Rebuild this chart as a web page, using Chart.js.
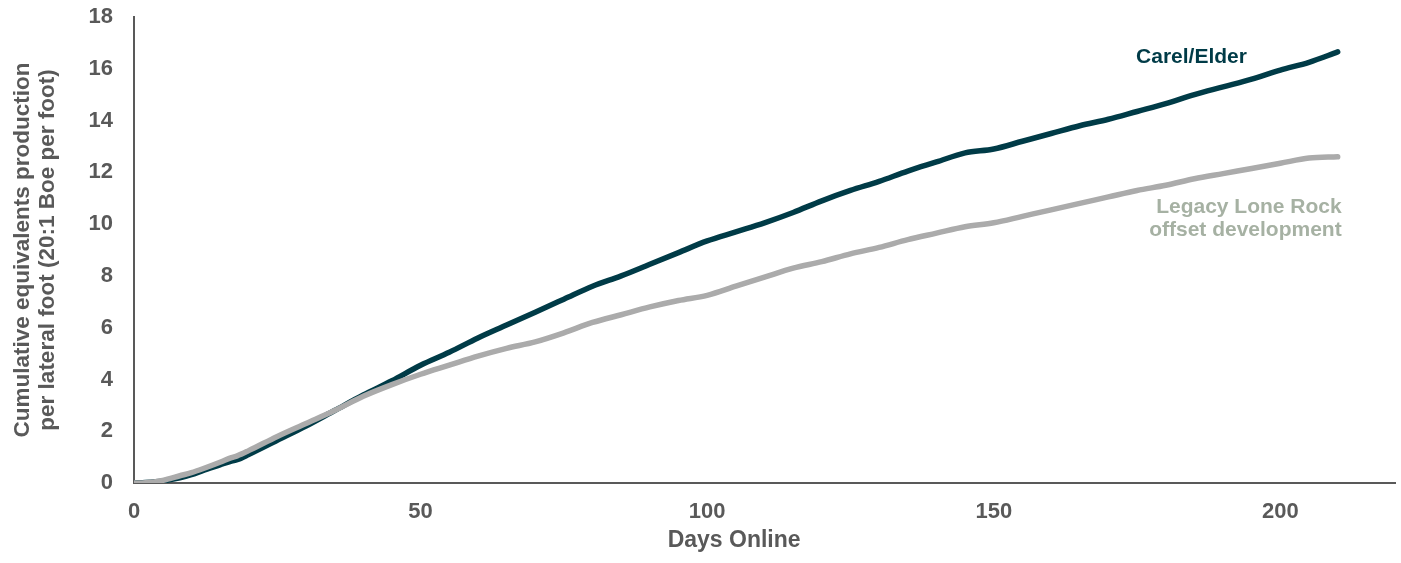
<!DOCTYPE html>
<html>
<head>
<meta charset="utf-8">
<script src="https://cdn.jsdelivr.net/npm/chart.js@4.4.1/dist/chart.umd.min.js"></script>
<style>
  html, body { margin: 0; padding: 0; background: #ffffff; }
  #wrap { width: 1401px; height: 563px; position: relative; }
</style>
</head>
<body>
<div id="wrap"><canvas id="chart" width="1401" height="563"></canvas></div>
<script>
// Days since the wells came online
const days = [0, 2, 5, 8, 10, 12, 15, 17, 18, 20, 25, 30, 35, 40, 45, 50, 55, 60, 65, 70, 75, 80, 85, 90, 95, 100,
  105, 110, 115, 120, 125, 130, 135, 140, 145, 150, 155, 160, 165, 170, 175, 180, 185, 190, 195, 200, 205, 210];

// Cumulative Boe per lateral foot
const carelElder = [0, 0.02, 0.08, 0.2, 0.32, 0.48, 0.7, 0.85, 0.9, 1.1, 1.65, 2.2, 2.8, 3.4, 3.95, 4.55, 5.05, 5.6, 6.1, 6.6, 7.1, 7.6, 8.0, 8.45, 8.9, 9.35,
  9.7, 10.05, 10.45, 10.9, 11.3, 11.65, 12.05, 12.4, 12.75, 12.9, 13.2, 13.5, 13.8, 14.05, 14.35, 14.65, 15.0, 15.3, 15.6, 15.95, 16.25, 16.65];

const legacyLoneRock = [0, 0.01, 0.1, 0.28, 0.4, 0.55, 0.8, 0.98, 1.05, 1.25, 1.8, 2.3, 2.8, 3.35, 3.8, 4.2, 4.55, 4.9, 5.2, 5.45, 5.8, 6.2, 6.5, 6.8, 7.05, 7.25,
  7.6, 7.95, 8.3, 8.55, 8.85, 9.1, 9.4, 9.65, 9.9, 10.05, 10.3, 10.55, 10.8, 11.05, 11.3, 11.5, 11.75, 11.95, 12.15, 12.35, 12.55, 12.6];

const xTicks = [0, 50, 100, 150, 200];
const yTitle = ['Cumulative equivalents production', 'per lateral foot (20:1 Boe per foot)'];
const xTitle = 'Days Online';
const seriesNames = ['Carel/Elder', 'Legacy Lone Rock offset development'];

const DARK = '#003b47';
const GREY = '#ababab';
const LABEL_GREY = '#a6b1a3';
const AXIS = '#595959';
const FONT = '"Liberation Sans", Arial, sans-serif';

const toPoints = (vals) => days.map((d, i) => ({ x: d, y: vals[i] }));

// Series names drawn next to the lines, plus the x-axis title
const annotations = {
  id: 'annotations',
  afterDraw(chart) {
    const { ctx, scales: { x, y } } = chart;
    ctx.save();
    ctx.textBaseline = 'middle';
    ctx.font = 'bold 21px ' + FONT;

    ctx.fillStyle = DARK;
    ctx.textAlign = 'center';
    ctx.fillText('Carel/Elder', x.getPixelForValue(184.5), y.getPixelForValue(16.45));

    ctx.fillStyle = LABEL_GREY;
    ctx.textAlign = 'right';
    ctx.fillText('Legacy Lone Rock', x.getPixelForValue(210.7), y.getPixelForValue(10.66));
    ctx.fillText('offset development', x.getPixelForValue(210.7), y.getPixelForValue(9.77));

    ctx.fillStyle = AXIS;
    ctx.textAlign = 'center';
    ctx.font = 'bold 23px ' + FONT;
    ctx.fillText(xTitle, x.getPixelForValue(104.7), 541);
    ctx.restore();
  }
};

const lineStyle = {
  borderWidth: 5.5,
  pointRadius: 0,
  cubicInterpolationMode: 'monotone',
  borderCapStyle: 'round',
  borderJoinStyle: 'round',
  fill: false
};

new Chart(document.getElementById('chart'), {
  type: 'line',
  data: {
    datasets: [
      Object.assign({ label: seriesNames[1], data: toPoints(legacyLoneRock), borderColor: GREY }, lineStyle),
      Object.assign({ label: seriesNames[0], data: toPoints(carelElder), borderColor: DARK }, lineStyle)
    ]
  },
  options: {
    responsive: false,
    animation: false,
    layout: { padding: { top: 17, right: 6, left: 0, bottom: 0 } },
    plugins: { legend: { display: false }, tooltip: { enabled: false } },
    scales: {
      x: {
        type: 'linear',
        min: 0,
        max: 220,
        grid: { display: false, drawTicks: false },
        border: { color: AXIS, width: 2 },
        afterBuildTicks(scale) {
          scale.ticks = xTicks.map(v => ({ value: v }));
        },
        afterFit(scale) { scale.height = 80; },
        ticks: {
          padding: 16,
          maxRotation: 0,
          color: AXIS,
          font: { family: FONT, size: 22, weight: 'bold' }
        }
      },
      y: {
        min: 0,
        max: 18,
        grid: { display: false, drawTicks: false },
        border: { color: AXIS, width: 2 },
        afterFit(scale) {
          scale.width = 134;
          scale.paddingTop = 0;
          scale.paddingBottom = 0;
        },
        ticks: {
          stepSize: 2,
          padding: 21,
          color: AXIS,
          font: { family: FONT, size: 22, weight: 'bold' }
        },
        title: {
          display: true,
          text: yTitle,
          color: AXIS,
          padding: { top: 10, bottom: 0 },
          font: { family: FONT, size: 22.5, weight: 'bold', lineHeight: 1.11 }
        }
      }
    }
  },
  plugins: [annotations]
});
</script>
</body>
</html>
